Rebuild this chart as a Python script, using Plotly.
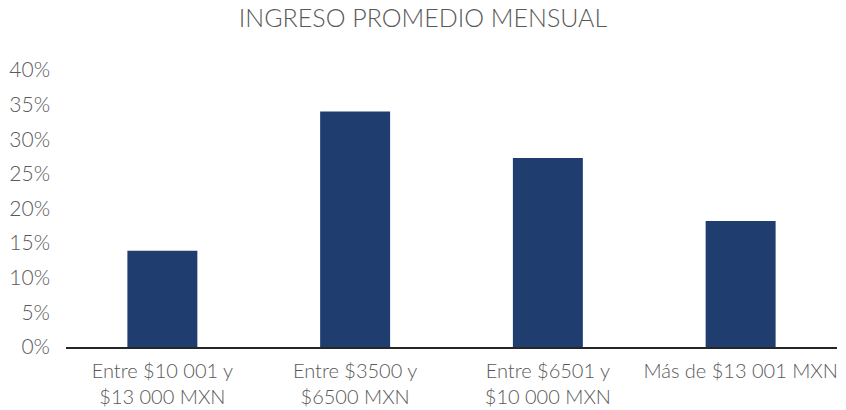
import plotly.graph_objects as go

categories = [
    "Entre $10 001 y<br>$13 000 MXN",
    "Entre $3500 y<br>$6500 MXN",
    "Entre $6501 y<br>$10 000 MXN",
    "Más de $13 001 MXN",
]
values = [0.139, 0.34, 0.273, 0.182]
y_ticks = [0, 0.05, 0.10, 0.15, 0.20, 0.25, 0.30, 0.35, 0.40]

font = dict(family="Lato", color="#595959", size=21, weight=300)

fig = go.Figure(
    go.Bar(
        x=categories,
        y=values,
        marker_color="#203d70",
        marker_line_width=0,
        hovertemplate="%{x}<br>%{y:.0%}<extra></extra>",
    )
)

fig.update_layout(
    title=dict(
        text="INGRESO PROMEDIO MENSUAL",
        x=0.5,
        xanchor="center",
        y=1 - 18 / 410,
        yanchor="middle",
        font=dict(family="Lato", color="#595959", size=25, weight=300),
    ),
    width=846,
    height=410,
    margin=dict(l=66, r=9, t=70, b=63, autoexpand=False),
    paper_bgcolor="white",
    plot_bgcolor="white",
    bargap=0.637,
    font=font,
    showlegend=False,
)

fig.update_yaxes(
    range=[0, 0.4],
    tickvals=y_ticks,
    tickformat=".0%",
    showgrid=False,
    zeroline=False,
    showline=False,
    ticks="",
    ticklabelstandoff=15,
    automargin=False,
)
fig.update_xaxes(
    showline=True,
    linecolor="#262626",
    linewidth=2,
    ticks="",
    tickangle=0,
    ticklabelstandoff=5,
    tickfont=dict(size=20),
    automargin=False,
)

# the page body has a default 8px margin; drop it so the figure sits at 0,0
fig.write_html(
    "out.html",
    config={"displayModeBar": False},
    post_script="document.body.style.margin='0';",
)
